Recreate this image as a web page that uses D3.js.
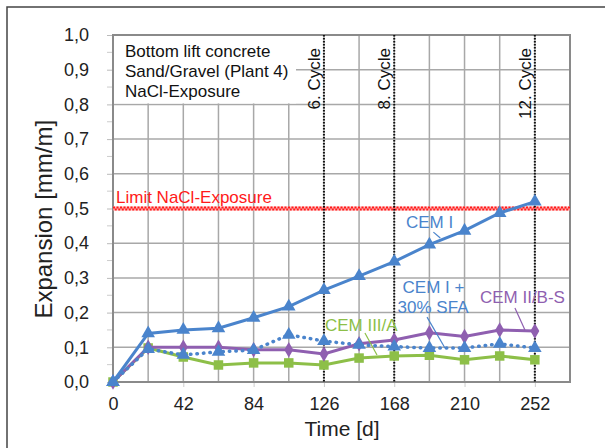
<!DOCTYPE html>
<html>
<head>
<meta charset="utf-8">
<script src="https://cdn.jsdelivr.net/npm/d3@7"></script>
<style>
  body { margin: 0; background: #fff; }
  svg { display: block; font-family: "Liberation Sans", Arial, sans-serif; }
</style>
</head>
<body>
<svg id="chart"></svg>
<script>
var svgWidth = 605;
var svgHeight = 448;

// data
var days = [0, 21, 42, 63, 84, 105, 126, 147, 168, 189, 210, 231, 252];
var cemI = [0, 0.14, 0.15, 0.155, 0.185, 0.217, 0.265, 0.305, 0.347, 0.396, 0.436, 0.487, 0.52];
var cemISfa = [0, 0.095, 0.078, 0.087, 0.092, 0.136, 0.118, 0.107, 0.102, 0.098, 0.098, 0.11, 0.098];
var cemIIBS = [0, 0.1, 0.1, 0.1, 0.093, 0.093, 0.081, 0.11, 0.121, 0.142, 0.131, 0.15, 0.147];
var cemIIIA = [0, 0.098, 0.072, 0.049, 0.055, 0.055, 0.049, 0.069, 0.075, 0.077, 0.064, 0.075, 0.064];

var xTicks = [0, 42, 84, 126, 168, 210, 252];
var yTicks = [0, 0.1, 0.2, 0.3, 0.4, 0.5, 0.6, 0.7, 0.8, 0.9, 1.0];
var cycleDays = [126, 168, 252];
var cycleLabels = ["6. Cycle", "8. Cycle", "12. Cycle"];
var limitValue = 0.5;
var infoLines = ["Bottom lift concrete", "Sand/Gravel (Plant 4)", "NaCl-Exposure"];

var plot = { left: 113, right: 570, top: 35, bottom: 382 };

var svg = d3.select("#chart")
  .attr("width", svgWidth)
  .attr("height", svgHeight);

// outer frame of the figure
svg.append("rect")
  .attr("x", 7).attr("y", 7)
  .attr("width", 640).attr("height", 480)
  .attr("fill", "none")
  .attr("stroke", "#444")
  .attr("stroke-width", 1.5);

var x = d3.scaleLinear().domain([0, 273]).range([plot.left, plot.right]);
var y = d3.scaleLinear().domain([0, 1]).range([plot.bottom, plot.top]);

// grid
var gridX = d3.range(0, 274, 21);
svg.append("g").selectAll("line").data(gridX).enter().append("line")
  .attr("x1", function(d) { return x(d); })
  .attr("x2", function(d) { return x(d); })
  .attr("y1", y(0)).attr("y2", y(1))
  .attr("stroke", "#a8a8a8").attr("stroke-width", 1.5);
svg.append("g").selectAll("line").data(yTicks).enter().append("line")
  .attr("x1", x(0)).attr("x2", x(273))
  .attr("y1", function(d) { return y(d); })
  .attr("y2", function(d) { return y(d); })
  .attr("stroke", "#a8a8a8").attr("stroke-width", 1.5);

// info box
svg.append("rect")
  .attr("x", x(0) + 1).attr("y", y(1) + 1)
  .attr("width", 182).attr("height", y(0.8) - y(1) - 2)
  .attr("fill", "#fff");
svg.append("g").selectAll("text").data(infoLines).enter().append("text")
  .attr("x", 125)
  .attr("y", function(d, i) { return 57 + i * 20; })
  .attr("font-size", 17)
  .attr("fill", "#111")
  .text(function(d) { return d; });

// axes
var yAxis = d3.axisLeft(y)
  .tickValues(yTicks)
  .tickSize(5)
  .tickPadding(18)
  .tickFormat(function(d) { return d3.format(".1f")(d).replace(".", ","); });
var gy = svg.append("g").attr("transform", "translate(" + (x(0) - 1) + ",0)").call(yAxis);
gy.select(".domain").remove();
gy.selectAll("line").attr("stroke", "#bbb");
gy.selectAll("text").attr("font-size", 18).attr("fill", "#222").attr("font-family", "Liberation Sans, Arial, sans-serif");

var yMinor = d3.range(0.05, 1, 0.1);
svg.append("g").selectAll("line").data(yMinor).enter().append("line")
  .attr("x1", x(0) - 6).attr("x2", x(0) - 1)
  .attr("y1", function(d) { return y(d); })
  .attr("y2", function(d) { return y(d); })
  .attr("stroke", "#ccc");

var xAxis = d3.axisBottom(x)
  .tickValues(xTicks)
  .tickSize(4)
  .tickPadding(10);
var gx = svg.append("g").attr("transform", "translate(0," + (y(0) + 1) + ")").call(xAxis);
gx.select(".domain").remove();
gx.selectAll("line").attr("stroke", "#ccc");
gx.selectAll("text").attr("font-size", 18).attr("fill", "#222").attr("font-family", "Liberation Sans, Arial, sans-serif");

// plot frame
svg.append("rect")
  .attr("x", x(0)).attr("y", y(1))
  .attr("width", x(273) - x(0)).attr("height", y(0) - y(1))
  .attr("fill", "none")
  .attr("stroke", "#8a8a8a")
  .attr("stroke-width", 2);

// axis titles
svg.append("text")
  .attr("x", 342).attr("y", 436)
  .attr("text-anchor", "middle")
  .attr("font-size", 21)
  .attr("fill", "#222")
  .text("Time [d]");
svg.append("text")
  .attr("transform", "translate(52," + y(0.469) + ") rotate(-90)")
  .attr("text-anchor", "middle")
  .attr("font-size", 24)
  .attr("fill", "#222")
  .text("Expansion [mm/m]");

// limit line
svg.append("line")
  .attr("x1", x(0)).attr("x2", x(273))
  .attr("y1", y(limitValue)).attr("y2", y(limitValue))
  .attr("stroke", "#ffb0b0").attr("stroke-width", 4);
svg.append("line")
  .attr("x1", x(0)).attr("x2", x(273))
  .attr("y1", y(limitValue) - 1).attr("y2", y(limitValue) - 1)
  .attr("stroke", "#ff1a1a").attr("stroke-width", 2)
  .attr("stroke-dasharray", "2,1.5");
svg.append("line")
  .attr("x1", x(0)).attr("x2", x(273))
  .attr("y1", y(limitValue) + 1).attr("y2", y(limitValue) + 1)
  .attr("stroke", "#ff1a1a").attr("stroke-width", 2)
  .attr("stroke-dasharray", "2,1.5")
  .attr("stroke-dashoffset", 1.75);
svg.append("text")
  .attr("x", 116).attr("y", 203)
  .attr("font-size", 17)
  .attr("fill", "#ff1a1a")
  .text("Limit NaCl-Exposure");

// cycle lines
svg.append("g").selectAll("line").data(cycleDays).enter().append("line")
  .attr("x1", function(d) { return x(d); })
  .attr("x2", function(d) { return x(d); })
  .attr("y1", y(1)).attr("y2", y(0))
  .attr("stroke", "#111").attr("stroke-width", 2)
  .attr("stroke-dasharray", "1.5,1.5");
svg.append("g").selectAll("text").data(cycleDays).enter().append("text")
  .attr("transform", function(d) { return "translate(" + (x(d) - 4) + "," + 48 + ") rotate(-90)"; })
  .attr("text-anchor", "end")
  .attr("font-size", 17)
  .attr("fill", "#111")
  .text(function(d, i) { return cycleLabels[i]; });

// series
var blue = "#4a84cc", purple = "#8f5fb0", green = "#8dbf48";
var series = [
  { name: "CEM III/A", values: cemIIIA, color: green, dash: null, marker: "square" },
  { name: "CEM II/B-S", values: cemIIBS, color: purple, dash: null, marker: "diamond" },
  { name: "CEM I + 30% SFA", values: cemISfa, color: blue, dash: "0.5,6", marker: "triangle" },
  { name: "CEM I", values: cemI, color: blue, dash: null, marker: "triangle" }
];
var symbols = {
  square: d3.symbol().type(d3.symbolSquare).size(90),
  diamond: d3.symbol().type(d3.symbolDiamond).size(70),
  triangle: d3.symbol().type(d3.symbolTriangle).size(80)
};
var line = d3.line()
  .x(function(d) { return x(d[0]); })
  .y(function(d) { return y(d[1]); });

series.forEach(function(s) {
  var pts = days.map(function(d, i) { return [d, s.values[i]]; });
  svg.append("path")
    .datum(pts)
    .attr("d", line)
    .attr("fill", "none")
    .attr("stroke", s.color)
    .attr("stroke-width", s.dash ? 3.5 : 3)
    .attr("stroke-linecap", "round")
    .attr("stroke-dasharray", s.dash);
  svg.append("g").selectAll("path").data(pts).enter().append("path")
    .attr("d", symbols[s.marker])
    .attr("transform", function(d) { return "translate(" + x(d[0]) + "," + y(d[1]) + ")"; })
    .attr("fill", s.color);
});

// series labels with leader lines (positions in data units)
var labels = [
  { lines: ["CEM I"], day: 175, val: 0.444, color: blue, lead: [[191.4, 0.432], [195.5, 0.415]] },
  { lines: ["CEM I +", "30% SFA"], day: 173, val: 0.256, color: blue, lead: [[187.6, 0.187], [198.3, 0.098]] },
  { lines: ["CEM II/B-S"], day: 219.2, val: 0.228, color: purple, lead: [[240.1, 0.213], [246.1, 0.15]] },
  { lines: ["CEM III/A"], day: 126.6, val: 0.147, color: green, lead: [[150.5, 0.141], [157.7, 0.078]] }
];
labels.forEach(function(l) {
  var t = svg.append("text")
    .attr("x", x(l.day)).attr("y", y(l.val))
    .attr("font-size", 17)
    .attr("fill", l.color);
  l.lines.forEach(function(s, i) {
    t.append("tspan")
      .attr("x", x(l.day) - (i > 0 ? 5 : 0))
      .attr("dy", i > 0 ? 20 : 0)
      .text(s);
  });
  svg.append("line")
    .attr("x1", x(l.lead[0][0])).attr("y1", y(l.lead[0][1]))
    .attr("x2", x(l.lead[1][0])).attr("y2", y(l.lead[1][1]))
    .attr("stroke", l.color).attr("stroke-width", 1.2);
});
</script>
</body>
</html>
